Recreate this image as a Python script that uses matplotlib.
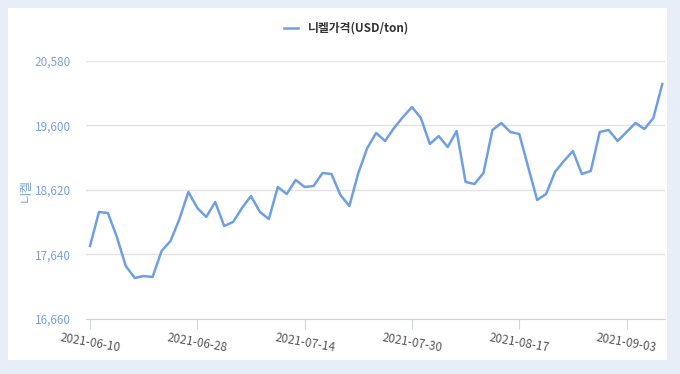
import matplotlib
matplotlib.use("Agg")
import matplotlib.pyplot as plt
import pandas as pd
from matplotlib.patches import Rectangle

plt.rcParams['font.family'] = ['Noto Sans CJK KR', 'DejaVu Sans']

# LME trading days (Aug 30 bank holiday closed)
dates = [d.strftime('%Y-%m-%d') for d in pd.bdate_range('2021-06-10', '2021-09-09')
         if d.strftime('%Y-%m-%d') != '2021-08-30']

price = [17769, 18286, 18271, 17906, 17465, 17283, 17313, 17298, 17693, 17845,
         18179, 18590, 18347, 18210, 18438, 18073, 18134, 18347, 18529, 18286,
         18179, 18666, 18559, 18772, 18666, 18681, 18878, 18863, 18544, 18377,
         18878, 19258, 19486, 19365, 19562, 19729, 19881, 19714, 19319, 19440,
         19273, 19516, 18742, 18711, 18878, 19532, 19638, 19501, 19471, 18969,
         18468, 18559, 18894, 19061, 19213, 18863, 18909, 19501, 19532, 19365,
         19501, 19638, 19547, 19714, 20231]

yticks = [16660, 17640, 18620, 19600, 20580]
series_name = '니켈가격(USD/ton)'
y_title = '니켈'

fig = plt.figure(figsize=(6.8, 3.74), dpi=100, facecolor='#e7eef8')
fig.add_artist(Rectangle((8 / 680, 14 / 374), 659 / 680, 352 / 374,
                         transform=fig.transFigure, facecolor='white',
                         edgecolor='none', zorder=-10))

ax = fig.add_axes([86 / 680, 1 - 319 / 374, 579 / 680, 258 / 374])
ax.set_facecolor('none')

x = list(range(len(price)))
ax.plot(x, price, color='#6f9fe3', linewidth=1.8, label=series_name, zorder=3)

ax.set_xlim(-0.45, 64.3)
ax.set_ylim(16660, 20580)
ax.set_yticks(yticks)
ax.set_yticklabels([f'{v:,}' for v in yticks])
ax.grid(axis='y', color='#e3e3e3', linewidth=1)
ax.set_axisbelow(True)

xt = x[::12]
ax.set_xticks(xt)
ax.set_xticklabels([dates[i] for i in xt], rotation=-10, ha='center',
                   fontsize=8.5, color='#555555')

for s in ['top', 'right', 'left']:
    ax.spines[s].set_visible(False)
ax.spines['bottom'].set_color('#ccd6eb')
ax.tick_params(axis='y', length=0, labelsize=8.5, labelcolor='#7aa1dc', pad=11)
ax.tick_params(axis='x', length=7, color='#ccd6eb', pad=2)

ax.set_ylabel(y_title, color='#7aa1dc', fontsize=9, labelpad=1)

leg = ax.legend(loc='lower center', bbox_to_anchor=(0.45, 1.06), frameon=False,
                handlelength=1.2, prop={'weight': 'bold', 'size': 8.5})
for t in leg.get_texts():
    t.set_color('#333333')

fig.savefig('out.png', dpi=100, facecolor=fig.get_facecolor())
